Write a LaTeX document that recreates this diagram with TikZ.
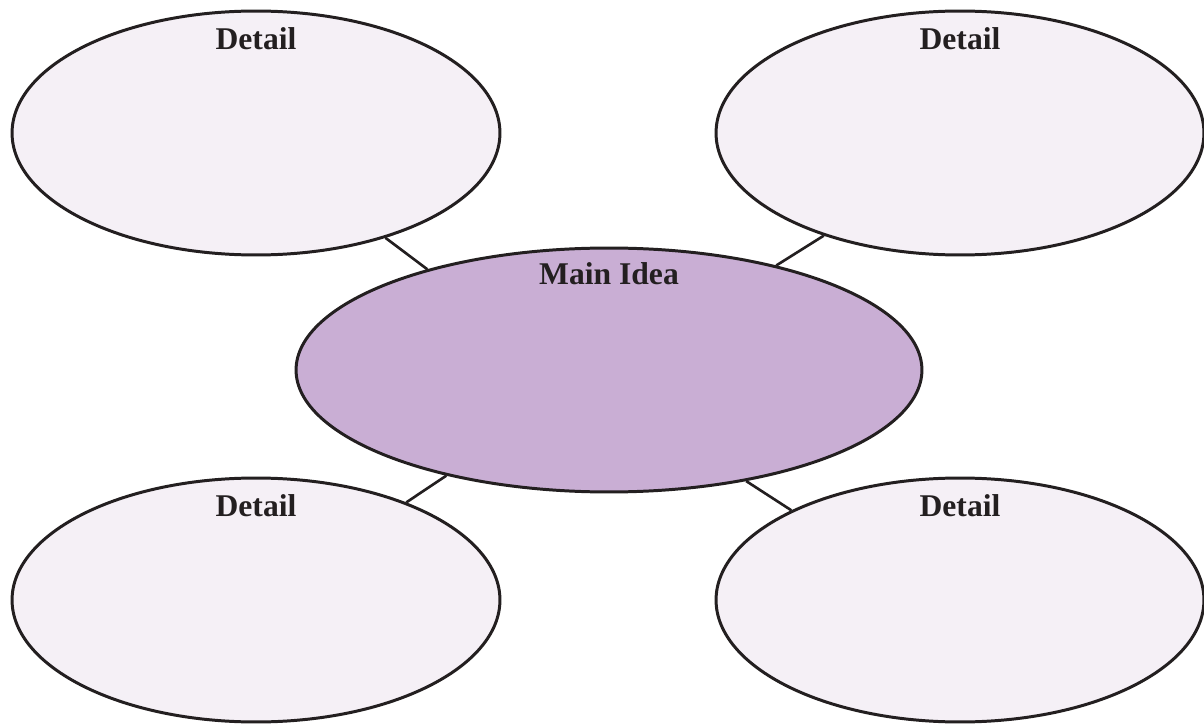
\documentclass[tikz,border=0pt]{standalone}
\usepackage{fontspec}
\setmainfont{Liberation Serif}
\usetikzlibrary{shapes.geometric,positioning}
\definecolor{ideafill}{RGB}{201,174,212}
\definecolor{detailfill}{RGB}{245,240,246}
\definecolor{inkdark}{RGB}{35,31,32}

\begin{document}
\begin{tikzpicture}[x=0.02cm, y=-0.02cm,
  detailbubble/.style={draw=inkdark, fill=detailfill, ellipse, line width=1.7pt, inner sep=0pt, minimum width=9.76cm, minimum height=4.88cm},
  ideabubble/.style={draw=inkdark, fill=ideafill, ellipse, line width=1.7pt, inner sep=0pt, minimum width=12.52cm, minimum height=4.88cm},
  bubbletext/.style={inner sep=0pt, font=\fontsize{18}{21}\selectfont\bfseries, text=inkdark},
  link/.style={draw=inkdark, line width=1.5pt}]
\useasboundingbox (0,0) rectangle (1204,726);

% Detail bubbles round the main idea
\node[detailbubble] (tl) at (256,133) {};
\node[detailbubble] (tr) at (960,133) {};
\node[detailbubble] (bl) at (256,600) {};
\node[detailbubble] (br) at (960,600) {};

% Main idea in the middle
\node[ideabubble] (main) at (609,370) {};

% Links between bubbles
\draw[link] (tl.-39) -- (main.151);
\draw[link] (tr.217) -- (main.32);
\draw[link] (bl.33) -- (main.213);
\draw[link] (br.152) -- (main.-39);

% Labels
\node[bubbletext, below=0.35cm of tl.north] (tltext) {Detail};
\node[bubbletext, below=0.35cm of tr.north] (trtext) {Detail};
\node[bubbletext, below=0.36cm of bl.north] (bltext) {Detail};
\node[bubbletext, below=0.36cm of br.north] (brtext) {Detail};
\node[bubbletext, below=0.32cm of main.north] (maintext) {Main Idea};
\end{tikzpicture}
\end{document}
